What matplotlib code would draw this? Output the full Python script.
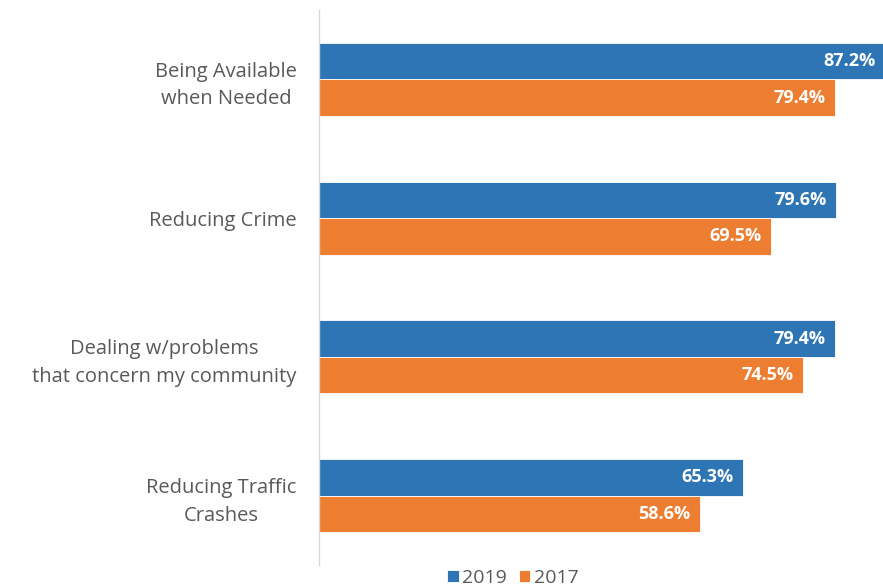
import matplotlib.pyplot as plt
import numpy as np

categories = ['Being Available\nwhen Needed', 'Reducing Crime',
              'Dealing w/problems\nthat concern my community',
              'Reducing Traffic\nCrashes']
vals_2019 = [87.2, 79.6, 79.4, 65.3]
vals_2017 = [79.4, 69.5, 74.5, 58.6]
series = ['2019', '2017']

blue = '#2E75B6'
orange = '#ED7D31'
grey = '#595959'

plt.rcParams['font.family'] = ['Open Sans', 'DejaVu Sans']

fig = plt.figure(figsize=(8.83, 5.88), dpi=100)
ax = fig.add_axes([319 / 883, 1 - 565 / 588, 1 - 319 / 883, 555 / 588])

y = np.arange(len(categories))
h = 0.263
b1 = ax.barh(y - h / 2, vals_2019, height=h, color=blue, edgecolor='white',
             linewidth=0.6, label=series[0])
b2 = ax.barh(y + h / 2, vals_2017, height=h, color=orange, edgecolor='white',
             linewidth=0.6, label=series[1])

for bars, vals in ((b1, vals_2019), (b2, vals_2017)):
    for bar, v in zip(bars, vals):
        ax.annotate(f'{v:.1f}%', (v, bar.get_y() + bar.get_height() / 2),
                    xytext=(-7, 0), textcoords='offset points',
                    ha='right', va='center', color='white',
                    fontsize=13, fontweight='bold', annotation_clip=False)

ax.set_xlim(0, (883 - 319) / 6.5)
ax.set_ylim(3.5, -0.5)
ax.set_yticks(y)
ax.set_yticklabels(categories, fontsize=14.5, color=grey, ha='right',
                   multialignment='center', linespacing=1.5)
ax.tick_params(axis='y', length=0, pad=16)
ax.set_xticks([])
for s in ('top', 'right', 'bottom'):
    ax.spines[s].set_visible(False)
ax.spines['left'].set_color('#D9D9D9')
ax.spines['left'].set_linewidth(1)

fig.legend(handles=[b1, b2], labels=series, loc='center',
           bbox_to_anchor=(513 / 883, 1 - 578 / 588), ncol=2, frameon=False,
           fontsize=14, labelcolor=grey, handlelength=0.6, handleheight=0.6,
           handletextpad=0.2, columnspacing=0.6)

fig.savefig('out.png', dpi=100)
